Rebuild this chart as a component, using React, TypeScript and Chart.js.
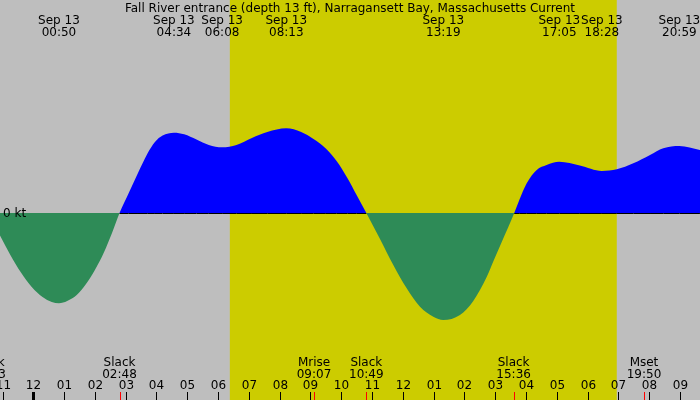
import { useEffect, useRef } from "react";
import { Chart, registerables } from "chart.js";
import type { Plugin } from "chart.js";

Chart.register(...registerables);

const TITLE =
  "Fall River entrance (depth 13 ft), Narragansett Bay, Massachusetts Current";

// current curve: hours from midnight Sep 13, speed in knots (flood +, ebb -)
const curveHours = [
  -1.45, -1.1, -0.75, -0.4, -0.05, 0.3, 0.6, 0.833, 1.1, 1.41, 1.7, 2.0, 2.3,
  2.55, 2.8, 3.1, 3.4, 3.7, 3.95, 4.2, 4.567, 4.9, 5.3, 5.7, 6.133, 6.6, 7.1,
  7.6, 8.217, 8.7, 9.1, 9.5, 9.85, 10.2, 10.5, 10.817, 11.26, 11.692, 12.127,
  12.559, 12.991, 13.317, 13.857, 14.29, 14.725, 14.96, 15.2, 15.62, 15.785,
  16.025, 16.35, 16.67, 17.083, 17.75, 18.467, 18.95, 19.487, 20.03, 20.46,
  20.983, 21.65, 22.0,
];
const curveKnots = [
  0, -0.215, -0.417, -0.595, -0.739, -0.84, -0.889, -0.903, -0.88, -0.82,
  -0.715, -0.57, -0.39, -0.205, 0, 0.2, 0.4, 0.59, 0.71, 0.775, 0.803, 0.787,
  0.735, 0.68, 0.657, 0.68, 0.75, 0.81, 0.847, 0.81, 0.74, 0.645, 0.52, 0.35,
  0.18, 0, -0.26, -0.52, -0.753, -0.937, -1.037, -1.07, -1.02, -0.88, -0.64,
  -0.47, -0.3, 0, 0.13, 0.297, 0.43, 0.48, 0.513, 0.475, 0.42, 0.437, 0.497,
  0.58, 0.647, 0.67, 0.63, 0.6,
];

// max / min current events along the top
const topEventDates = ["Sep 13", "Sep 13", "Sep 13", "Sep 13", "Sep 13", "Sep 13", "Sep 13", "Sep 13"];
const topEventClock = ["00:50", "04:34", "06:08", "08:13", "13:19", "17:05", "18:28", "20:59"];

// slack, moonrise, moonset along the bottom
const bottomEventNames = ["Slack", "Slack", "Mrise", "Slack", "Slack", "Mset"];
const bottomEventClock = ["22:33", "02:48", "09:07", "10:49", "15:36", "19:50"];
const bottomEventDay = [-1, 0, 0, 0, 0, 0];

const hourTicks = [-1, 0, 1, 2, 3, 4, 5, 6, 7, 8, 9, 10, 11, 12, 13, 14, 15, 16, 17, 18, 19, 20, 21];
const hourLabels = [
  "11", "12", "01", "02", "03", "04", "05", "06", "07", "08", "09", "10",
  "11", "12", "01", "02", "03", "04", "05", "06", "07", "08", "09",
];

const SUNRISE = "06:23";
const SUNSET = "18:57";

const X_MIN = -1.0815;
const X_MAX = 21.653;
const Y_MAX = 2.13;
const Y_MIN = -1.87;

const FONT = '12px "DejaVu Sans"';

const toHours = (clock: string, day = 0) => {
  const [h, m] = clock.split(":").map(Number);
  return h + m / 60 + day * 24;
};

const tidePlugin: Plugin<"line"> = {
  id: "tide",
  beforeDraw(chart) {
    const { ctx, width, height } = chart;
    const x = chart.scales.x;
    ctx.save();
    ctx.fillStyle = "#bebebe";
    ctx.fillRect(0, 0, width, height);
    const x1 = x.getPixelForValue(toHours(SUNRISE));
    const x2 = x.getPixelForValue(toHours(SUNSET));
    ctx.fillStyle = "#cccc00";
    ctx.fillRect(x1, 0, x2 - x1, height);
    ctx.restore();
  },
  afterDatasetsDraw(chart) {
    // zero line only under the flood part
    const { ctx } = chart;
    const x = chart.scales.x;
    const y = chart.scales.y;
    const y0 = Math.round(y.getPixelForValue(0)) + 0.5;
    ctx.save();
    ctx.strokeStyle = "#000";
    ctx.lineWidth = 1;
    ctx.beginPath();
    for (let i = 0; i < curveHours.length - 1; i++) {
      if (curveKnots[i] >= 0 && curveKnots[i + 1] >= 0) {
        ctx.moveTo(x.getPixelForValue(curveHours[i]), y0);
        ctx.lineTo(x.getPixelForValue(curveHours[i + 1]), y0);
      }
    }
    ctx.stroke();
    ctx.restore();
  },
  afterDraw(chart) {
    const { ctx, width, height } = chart;
    const x = chart.scales.x;
    const y = chart.scales.y;
    ctx.save();
    ctx.font = FONT;
    ctx.fillStyle = "#000";
    ctx.textAlign = "center";
    ctx.textBaseline = "alphabetic";

    ctx.fillText(TITLE, width / 2, 12);

    topEventClock.forEach((c, i) => {
      const px = x.getPixelForValue(toHours(c));
      ctx.fillText(topEventDates[i], px, 24);
      ctx.fillText(c, px, 36);
    });

    bottomEventClock.forEach((c, i) => {
      const px = x.getPixelForValue(toHours(c, bottomEventDay[i]));
      ctx.fillText(bottomEventNames[i], px, 366);
      ctx.fillText(c, px, 378);
    });

    hourTicks.forEach((h, i) => {
      const px = Math.round(x.getPixelForValue(h));
      ctx.fillText(hourLabels[i], px + 0.5, 389);
      ctx.fillRect(h === 0 ? px - 1 : px, height - 8, h === 0 ? 3 : 1, 8);
    });

    ctx.fillStyle = "#ff0000";
    bottomEventClock.forEach((c, i) => {
      const px = Math.round(x.getPixelForValue(toHours(c, bottomEventDay[i])));
      ctx.fillRect(px, height - 8, 1, 8);
    });

    ctx.fillStyle = "#000";
    ctx.textAlign = "left";
    ctx.fillText("0 kt", 3, y.getPixelForValue(0) + 3.5);
    ctx.restore();
  },
};

const TideChart = () => {
  const canvasRef = useRef<HTMLCanvasElement | null>(null);
  const chartRef = useRef<Chart<"line"> | null>(null);

  useEffect(() => {
    if (!canvasRef.current) return;
    if (chartRef.current) chartRef.current.destroy();

    chartRef.current = new Chart(canvasRef.current, {
      type: "line",
      data: {
        datasets: [
          {
            data: curveHours.map((h, i) => ({ x: h, y: curveKnots[i] })),
            borderWidth: 0,
            borderColor: "rgba(0,0,0,0)",
            pointRadius: 0,
            cubicInterpolationMode: "monotone",
            fill: { target: "origin", above: "#0000ff", below: "#2e8b57" },
          },
        ],
      },
      options: {
        animation: false,
        responsive: true,
        maintainAspectRatio: false,
        devicePixelRatio: 1,
        layout: { padding: 0 },
        plugins: {
          legend: { display: false },
          tooltip: { enabled: false },
        },
        scales: {
          x: { type: "linear", min: X_MIN, max: X_MAX, display: false },
          y: { min: Y_MIN, max: Y_MAX, display: false },
        },
      },
      plugins: [tidePlugin],
    });

    return () => {
      if (chartRef.current) {
        chartRef.current.destroy();
        chartRef.current = null;
      }
    };
  }, []);

  return (
    <div style={{ position: "fixed", left: 0, top: 0, width: 700, height: 400 }}>
      <canvas ref={canvasRef}></canvas>
    </div>
  );
};

export default function App() {
  return <TideChart />;
}
